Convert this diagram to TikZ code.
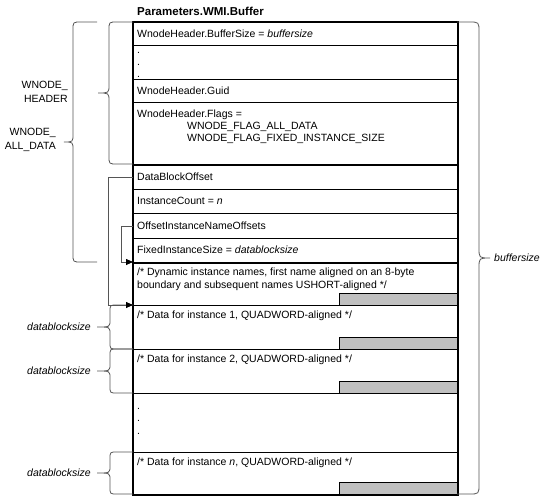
\documentclass[tikz,border=0pt]{standalone}
\usepackage{fontspec}
\setmainfont{Liberation Sans}
\usetikzlibrary{arrows.meta}
\definecolor{brcgray}{HTML}{555555}
\definecolor{barfill}{HTML}{C0C0C0}
\newcommand\LBr[6]{% xe, xv, xt, y1, y2, r
  \pgfmathsetmacro\bym{(#4+#5)/2}
  \draw[brc] (#1,#4) -- ({#2+#6},#4) .. controls (#2,#4) .. (#2,{#4+#6})
    -- (#2,{\bym-#6}) .. controls (#2,\bym) .. (#3,\bym)
    .. controls (#2,\bym) .. (#2,{\bym+#6})
    -- (#2,{#5-#6}) .. controls (#2,#5) .. ({#2+#6},#5) -- (#1,#5);
}
\newcommand\RBr[6]{% xe, xv, xt, y1, y2, r
  \pgfmathsetmacro\bym{(#4+#5)/2}
  \draw[brc] (#1,#4) -- ({#2-#6},#4) .. controls (#2,#4) .. (#2,{#4+#6})
    -- (#2,{\bym-#6}) .. controls (#2,\bym) .. (#3,\bym)
    .. controls (#2,\bym) .. (#2,{\bym+#6})
    -- (#2,{#5-#6}) .. controls (#2,#5) .. ({#2-#6},#5) -- (#1,#5);
}
\begin{document}
\begin{tikzpicture}[x=1pt,y=-1pt,
  every node/.style={font=\fontsize{10.5}{13.5}\selectfont, inner sep=0pt},
  rowbox/.style={draw=black, line width=0.9pt, rectangle, anchor=north west,
     minimum width=324pt, inner sep=0pt},
  bar/.style={draw=black, line width=0.8pt, fill=barfill, anchor=south east,
     minimum width=118pt, minimum height=12pt},
  txt/.style={anchor=west},
  lbl/.style={align=right, anchor=east},
  brc/.style={draw=brcgray, line width=0.8pt},
  conn/.style={draw=brcgray, line width=0.8pt,
     -{Triangle[length=7pt,width=6pt,color=black]}},
  thick line/.style={line width=2pt}
]
\useasboundingbox (0,0) rectangle (545,497);
% rows
\node[rowbox, minimum height=23pt] (r1) at (133,22) {};
\node[rowbox, minimum height=34pt] (r2) at (133,45) {};
\node[rowbox, minimum height=23pt] (r3) at (133,79) {};
\node[rowbox, minimum height=62pt] (r4) at (133,102) {};
\node[rowbox, minimum height=25pt] (r5) at (133,164) {};
\node[rowbox, minimum height=24pt] (r6) at (133,189) {};
\node[rowbox, minimum height=25pt] (r7) at (133,213) {};
\node[rowbox, minimum height=24pt] (r8) at (133,238) {};
\node[rowbox, minimum height=43pt] (r9) at (133,262) {};
\node[rowbox, minimum height=44pt] (r10) at (133,305) {};
\node[rowbox, minimum height=44pt] (r11) at (133,349) {};
\node[rowbox, minimum height=59pt] (r12) at (133,393) {};
\node[rowbox, minimum height=42pt] (r13) at (133,452) {};
% gray bars
\node[bar] (b9) at (r9.south east) {};
\node[bar] (b10) at (r10.south east) {};
\node[bar] (b11) at (r11.south east) {};
\node[bar] (b13) at (r13.south east) {};
% thick lines and outer frame
\draw[thick line] (r4.south west) -- (r4.south east);
\draw[thick line] (r8.south west) -- (r8.south east);
\draw[line width=1.6pt] (r1.north west) rectangle (r13.south east);
\draw[line width=2.2pt] (r1.north west) -- (r13.south west);
% title
\node[anchor=west, font=\fontsize{11.5}{13}\selectfont\bfseries] (title) at (137,11) {Parameters.WMI.Buffer};
% texts
\node[txt] (t1) at (137,33.5) {WnodeHeader.BufferSize = \textit{buffersize}};
\node[anchor=base west] (d1) at (137,54) {.};
\node[anchor=base west] (d2) at (137,66) {.};
\node[anchor=base west] (d3) at (137,78) {.};
\node[txt] (t3) at (137,90.5) {WnodeHeader.Guid};
\node[txt] (t4) at (137,115) {WnodeHeader.Flags =};
\node[txt] (t4a) at (187,127) {WNODE\_FLAG\_ALL\_DATA};
\node[txt] (t4b) at (187,139) {WNODE\_FLAG\_FIXED\_INSTANCE\_SIZE};
\node[txt] (t5) at (137,177) {DataBlockOffset};
\node[txt] (t6) at (137,201) {InstanceCount = \textit{n}};
\node[txt] (t7) at (137,226) {OffsetInstanceNameOffsets};
\node[txt] (t8) at (137,250) {FixedInstanceSize = \textit{datablocksize}};
\node[txt, align=left] (t9) at (137,279.5) {/* Dynamic instance names, first name aligned on an 8-byte\\boundary and subsequent names USHORT-aligned */};
\node[txt] (t10) at (137,316) {/* Data for instance 1, QUADWORD-aligned */};
\node[txt] (t11) at (137,360) {/* Data for instance 2, QUADWORD-aligned */};
\node[anchor=base west] (e1) at (137,409) {.};
\node[anchor=base west] (e2) at (137,421) {.};
\node[anchor=base west] (e3) at (137,434) {.};
\node[txt] (t13) at (137,463) {/* Data for instance \textit{n}, QUADWORD-aligned */};
% left labels
\node[lbl] (lh) at (68,92) {WNODE\_\\HEADER};
\node[lbl] (la) at (56,140) {WNODE\_\\ALL\_DATA};
\node[lbl, font=\fontsize{10.5}{13}\selectfont\itshape] (ld1) at (91,327) {datablocksize};
\node[lbl, font=\fontsize{10.5}{13}\selectfont\itshape] (ld2) at (91,371) {datablocksize};
\node[lbl, font=\fontsize{10.5}{13}\selectfont\itshape] (ld3) at (91,473) {datablocksize};
\node[anchor=west, font=\fontsize{10.5}{13}\selectfont\itshape] (lb) at (494,258) {buffersize};
% braces
\LBr{97}{73}{64}{22}{262}{8}
\LBr{133}{109}{98}{22}{164}{8}
\LBr{133}{110}{97}{305}{349}{7}
\LBr{133}{110}{97}{349}{393}{7}
\LBr{133}{110}{97}{452}{494}{7}
\RBr{457}{479}{490}{22}{494}{10}
% connectors
\draw[conn] (r5.west) -- ++(-25,0) |- (r10.north west);
\draw[conn] (r7.west) -- ++(-12,0) |- (r9.north west);
\end{tikzpicture}
\end{document}
